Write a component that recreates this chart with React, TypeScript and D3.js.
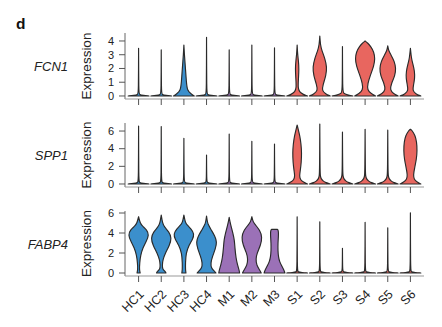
import React from 'react';
import * as d3 from 'd3';

type P = [number, number];

const CATEGORIES = ['HC1', 'HC2', 'HC3', 'HC4', 'M1', 'M2', 'M3', 'S1', 'S2', 'S3', 'S4', 'S5', 'S6'];
const GROUPS = ['HC', 'HC', 'HC', 'HC', 'M', 'M', 'M', 'S', 'S', 'S', 'S', 'S', 'S'];
const GROUP_NAMES = ['HC', 'M', 'S'];
const GROUP_COLORS = ['#3b8fcc', '#9b71b7', '#e8665f'];
const GENES = ['FCN1', 'SPP1', 'FABP4'];
const FCN1_TICKS = [0, 1, 2, 3, 4];
const SPP1_TICKS = [0, 2, 4, 6];
const FABP4_TICKS = [0, 2, 4, 6];

// violin profiles: [expression value, relative width]
const FCN1_VIOLINS: P[][] = [
  [[0, 1], [0.04, 0.45], [0.1, 0.06], [0.25, 0.015], [3.47, 0]],
  [[0, 1], [0.04, 0.45], [0.1, 0.06], [0.25, 0.015], [3.35, 0]],
  [[0, 1], [0.15, 0.7], [0.4, 0.32], [1.0, 0.24], [2.0, 0.15], [2.5, 0.1], [3.0, 0.05], [3.7, 0]],
  [[0, 1], [0.04, 0.45], [0.1, 0.06], [0.25, 0.015], [4.27, 0]],
  [[0, 1], [0.04, 0.45], [0.1, 0.06], [0.25, 0.015], [3.35, 0]],
  [[0, 1], [0.04, 0.45], [0.1, 0.06], [0.25, 0.015], [3.7, 0]],
  [[0, 1], [0.04, 0.45], [0.1, 0.06], [0.25, 0.015], [3.5, 0]],
  [[0, 1], [0.1, 0.6], [0.3, 0.2], [0.6, 0.08], [1.2, 0.12], [2.0, 0.18], [2.6, 0.12], [3.0, 0.05], [3.7, 0]],
  [[0, 1], [0.15, 0.55], [0.4, 0.2], [0.8, 0.3], [1.5, 0.6], [2.1, 0.68], [2.7, 0.5], [3.3, 0.2], [3.7, 0.06], [4.36, 0]],
  [[0, 1], [0.08, 0.45], [0.2, 0.08], [0.4, 0.015], [3.6, 0]],
  [[0, 1], [0.15, 0.6], [0.45, 0.2], [0.9, 0.25], [1.5, 0.5], [2.2, 0.85], [2.7, 0.95], [3.2, 0.85], [3.6, 0.55], [3.85, 0.25], [4.0, 0]],
  [[0, 1], [0.15, 0.55], [0.45, 0.2], [0.9, 0.35], [1.5, 0.7], [2.0, 0.78], [2.5, 0.65], [3.0, 0.3], [3.3, 0.08], [3.64, 0]],
  [[0, 1], [0.15, 0.5], [0.4, 0.2], [0.8, 0.3], [1.3, 0.42], [1.8, 0.4], [2.3, 0.25], [2.7, 0.1], [3.47, 0]],
];

const SPP1_VIOLINS: P[][] = [
  [[0, 1], [0.06, 0.45], [0.15, 0.06], [0.35, 0.015], [6.57, 0]],
  [[0, 1], [0.06, 0.45], [0.15, 0.06], [0.35, 0.015], [6.5, 0]],
  [[0, 1], [0.06, 0.45], [0.15, 0.06], [0.35, 0.015], [5.17, 0]],
  [[0, 1], [0.06, 0.45], [0.15, 0.06], [0.35, 0.015], [3.28, 0]],
  [[0, 1], [0.06, 0.45], [0.15, 0.06], [0.35, 0.015], [5.66, 0]],
  [[0, 1], [0.06, 0.45], [0.15, 0.06], [0.35, 0.015], [4.83, 0]],
  [[0, 1], [0.06, 0.45], [0.15, 0.06], [0.35, 0.015], [4.53, 0]],
  [[0, 1], [0.2, 0.6], [0.5, 0.3], [0.9, 0.22], [1.5, 0.3], [2.5, 0.4], [3.5, 0.43], [4.5, 0.38], [5.5, 0.25], [6.2, 0.1], [6.68, 0]],
  [[0, 1], [0.15, 0.6], [0.35, 0.3], [0.6, 0.12], [0.9, 0.05], [1.5, 0.02], [6.8, 0]],
  [[0, 1], [0.15, 0.6], [0.35, 0.3], [0.6, 0.12], [0.9, 0.05], [1.5, 0.02], [5.89, 0]],
  [[0, 1], [0.15, 0.6], [0.35, 0.3], [0.6, 0.12], [0.9, 0.05], [1.5, 0.02], [6.19, 0]],
  [[0, 1], [0.15, 0.6], [0.35, 0.3], [0.6, 0.12], [0.9, 0.05], [1.5, 0.02], [6.1, 0]],
  [[0, 1], [0.2, 0.65], [0.5, 0.35], [1.0, 0.28], [1.8, 0.4], [2.8, 0.58], [3.8, 0.65], [4.8, 0.6], [5.5, 0.45], [6.0, 0.2], [6.2, 0]],
];

const FABP4_VIOLINS: P[][] = [
  [[0, 0.15], [0.3, 0.08], [1.0, 0.1], [1.8, 0.2], [2.5, 0.4], [3.2, 0.75], [3.8, 1.0], [4.3, 0.8], [4.7, 0.35], [5.0, 0.15], [5.63, 0]],
  [[0, 0.45], [0.15, 0.4], [0.35, 0.12], [0.8, 0.1], [1.3, 0.15], [2.0, 0.4], [2.8, 0.8], [3.5, 1.0], [4.1, 0.75], [4.6, 0.3], [5.0, 0.12], [5.8, 0]],
  [[0, 0.2], [0.3, 0.15], [1.0, 0.15], [2.0, 0.2], [2.8, 0.5], [3.4, 0.85], [3.9, 1.0], [4.4, 0.7], [4.8, 0.3], [5.1, 0.12], [5.8, 0]],
  [[0, 0.9], [0.2, 0.75], [0.5, 0.45], [1.0, 0.4], [1.6, 0.55], [2.4, 0.85], [3.1, 1.0], [3.7, 0.8], [4.3, 0.45], [4.8, 0.18], [5.1, 0.08], [5.7, 0]],
  [[0, 1.0], [0.3, 0.95], [0.8, 0.8], [1.5, 0.65], [2.5, 0.55], [3.3, 0.5], [4.0, 0.35], [4.6, 0.2], [5.0, 0.1], [5.57, 0]],
  [[0, 0.9], [0.3, 0.75], [0.8, 0.45], [1.4, 0.38], [2.0, 0.5], [2.8, 0.85], [3.6, 1.0], [4.3, 0.75], [4.8, 0.35], [5.1, 0.12], [5.63, 0]],
  [[0, 1.0], [0.3, 0.9], [0.7, 0.7], [1.1, 0.5], [1.6, 0.38], [2.2, 0.33], [3.0, 0.33], [3.7, 0.38], [4.1, 0.38], [4.3, 0.34], [4.37, 0.28]],
  [[0, 1], [0.04, 0.45], [0.1, 0.06], [0.25, 0.015], [5.63, 0]],
  [[0, 1], [0.04, 0.45], [0.1, 0.06], [0.25, 0.015], [5.13, 0]],
  [[0, 1], [0.04, 0.45], [0.1, 0.06], [0.25, 0.015], [2.47, 0]],
  [[0, 1], [0.04, 0.45], [0.1, 0.06], [0.25, 0.015], [5.07, 0]],
  [[0, 1], [0.04, 0.45], [0.1, 0.06], [0.25, 0.015], [4.53, 0]],
  [[0, 1], [0.04, 0.45], [0.1, 0.06], [0.25, 0.015], [6.03, 0]],
];

const FONT = "'Liberation Sans', Arial, Helvetica, sans-serif";

export default function App() {
  const W = 442;
  const H = 327;
  const x = d3.scalePoint<string>().domain(CATEGORIES).range([125, 424]).padding(0.6);
  const step = x.step();
  const half = (step * 0.92) / 2;

  const panels = [
    { gene: GENES[0], violins: FCN1_VIOLINS, ticks: FCN1_TICKS, domain: [-0.22, 4.58], top: 33, bottom: 99 },
    { gene: GENES[1], violins: SPP1_VIOLINS, ticks: SPP1_TICKS, domain: [-0.34, 6.91], top: 123, bottom: 187 },
    { gene: GENES[2], violins: FABP4_VIOLINS, ticks: FABP4_TICKS, domain: [-0.3, 6.2], top: 211, bottom: 276 },
  ];

  const colorOf = (c: string) => GROUP_COLORS[GROUP_NAMES.indexOf(GROUPS[CATEGORIES.indexOf(c)])];

  return (
    <svg width={W} height={H} style={{ position: 'absolute', left: 0, top: 0, background: '#fff' }}>
      <text x={16} y={29} fontFamily={FONT} fontWeight="bold" fontSize={15.5} fill="#111">d</text>
      {panels.map((p, pi) => {
        const y = d3.scaleLinear().domain(p.domain).range([p.bottom, p.top]);
        const yc = (p.top + p.bottom) / 2;
        return (
          <g key={p.gene}>
            <text x={68} y={yc + 5} textAnchor="end" fontFamily={FONT} fontStyle="italic" fontSize={13} fill="#222">{p.gene}</text>
            <text transform={`translate(91,${yc}) rotate(-90)`} textAnchor="middle" fontFamily={FONT} fontSize={13.5} fill="#222">Expression</text>
            {CATEGORIES.map((c, i) => {
              const cx = x(c)!;
              const area = d3.area<P>()
                .curve(d3.curveBasis)
                .y((d) => y(d[0]))
                .x0((d) => cx - d[1] * half)
                .x1((d) => cx + d[1] * half);
              return (
                <path key={c} d={area(p.violins[i]) || ''} fill={colorOf(c)} stroke="#2a2a2a" strokeWidth={1.15} strokeLinejoin="round" />
              );
            })}
            <line x1={125} x2={125} y1={p.top} y2={p.bottom} stroke="#666" strokeWidth={1} />
            <line x1={125} x2={424} y1={p.bottom} y2={p.bottom} stroke="#999" strokeWidth={1} />
            {p.ticks.map((t) => (
              <g key={t}>
                <line x1={119} x2={125} y1={y(t)} y2={y(t)} stroke="#555" strokeWidth={1} />
                <text x={114} y={y(t) + 3.8} textAnchor="end" fontFamily={FONT} fontSize={11} fill="#222">{t}</text>
              </g>
            ))}
            {CATEGORIES.map((c) => (
              <line key={c} x1={x(c)!} x2={x(c)!} y1={p.bottom} y2={p.bottom + 6} stroke="#555" strokeWidth={1} />
            ))}
            {pi === panels.length - 1 &&
              CATEGORIES.map((c) => (
                <text key={c} transform={`translate(${x(c)! + 6},${p.bottom + 19}) rotate(-45)`} textAnchor="end" fontFamily={FONT} fontSize={12.5} fill="#222">{c}</text>
              ))}
          </g>
        );
      })}
    </svg>
  );
}
